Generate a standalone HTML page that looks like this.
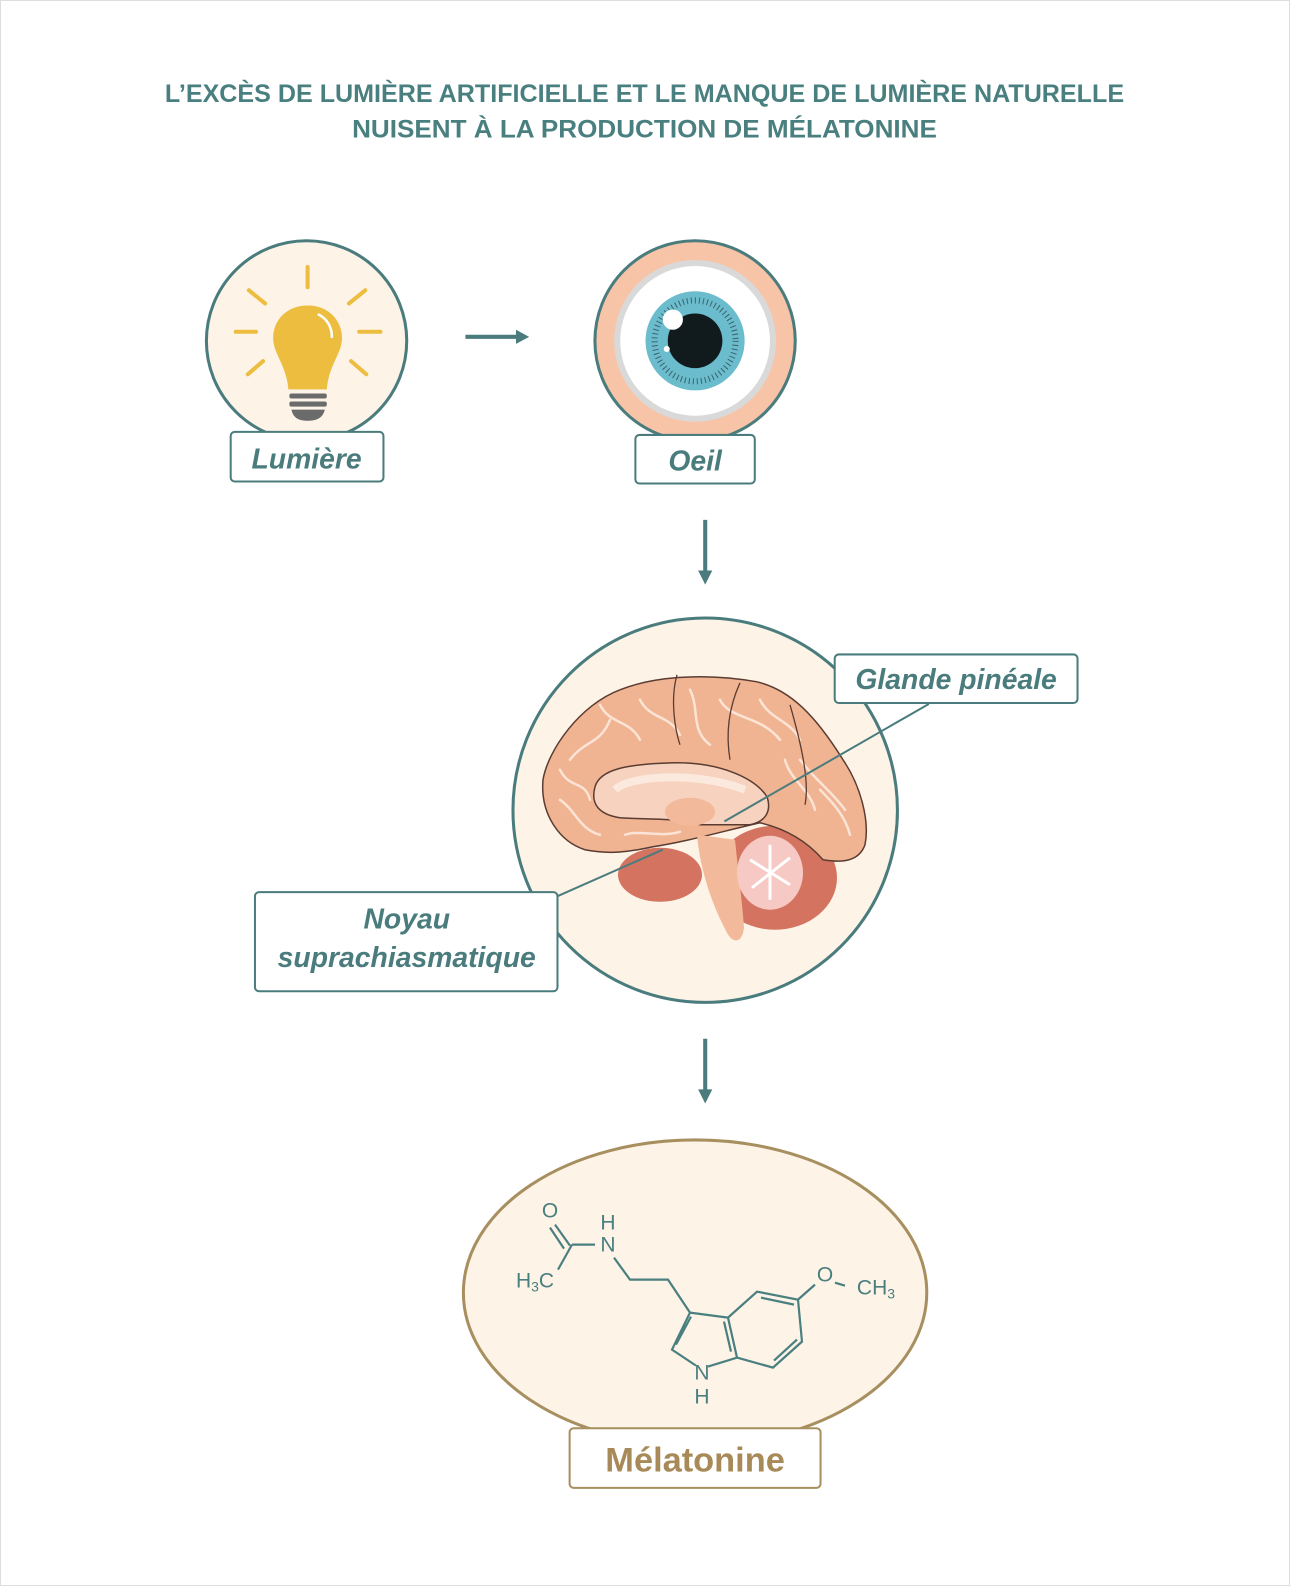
<!DOCTYPE html>
<html><head><meta charset="utf-8"><style>
html,body{margin:0;padding:0;background:#fff}
svg{display:block}
text{font-family:"Liberation Sans",sans-serif}
</style></head><body>
<svg width="1290" height="1586" viewBox="0 0 1275 1568" preserveAspectRatio="none" xmlns="http://www.w3.org/2000/svg">
<rect x="0.5" y="0.5" width="1274" height="1567" fill="#fff" stroke="#ddd"/>
<g fill="#4a7f80" font-weight="bold" font-size="25" text-anchor="middle">
<text x="637" y="101" textLength="948" lengthAdjust="spacingAndGlyphs">L’EXCÈS DE LUMIÈRE ARTIFICIELLE ET LE MANQUE DE LUMIÈRE NATURELLE</text>
<text x="637" y="136" textLength="578" lengthAdjust="spacingAndGlyphs">NUISENT À LA PRODUCTION DE MÉLATONINE</text>
</g>
<!-- bulb -->
<circle cx="303" cy="337" r="99" fill="#fdf3e7" stroke="#4a7c7d" stroke-width="3"/>
<g stroke="#ecbd3f" stroke-width="4" stroke-linecap="round">
<line x1="304" y1="264" x2="304" y2="284"/><line x1="246" y1="287" x2="262" y2="300"/><line x1="361" y1="287" x2="345" y2="300"/>
<line x1="233" y1="328" x2="253" y2="328"/><line x1="355" y1="328" x2="376" y2="328"/>
<line x1="245" y1="370" x2="260" y2="357"/><line x1="362" y1="370" x2="347" y2="357"/></g>
<path d="M304 302 C283 302 270 317 270 334 C270 350 283 360 285 385 L323 385 C325 360 338 350 338 334 C338 317 325 302 304 302Z" fill="#ecbd3f"/>
<path d="M315 311 C323 315 328 323 328 333" stroke="#fff" stroke-width="2.5" fill="none" stroke-linecap="round"/>
<rect x="286" y="389" width="37" height="5" rx="2" fill="#6b6b6b"/><rect x="286" y="397" width="37" height="5" rx="2" fill="#6b6b6b"/>
<path d="M288 405 L321 405 C319 414 312 416 304 416 C296 416 290 414 288 405Z" fill="#6b6b6b"/>
<!-- arrows -->
<g stroke="#4a7c7d" stroke-width="4"><line x1="460" y1="333" x2="512" y2="333"/><line x1="697" y1="514" x2="697" y2="566"/><line x1="697" y1="1027" x2="697" y2="1080"/></g>
<g fill="#4a7c7d"><path d="M510 326 L523 333 L510 340Z"/><path d="M690 564 L697 578 L704 564Z"/><path d="M690 1077 L697 1091 L704 1077Z"/></g>
<!-- eye -->
<circle cx="687" cy="337" r="99" fill="#f8c4a7" stroke="#4a7c7d" stroke-width="3"/>
<circle cx="687" cy="337" r="80" fill="#d9d9d9"/><circle cx="687" cy="337" r="74" fill="#fff"/>
<circle cx="687" cy="337" r="49" fill="#6bbccc"/><circle cx="687" cy="337" r="40" fill="none" stroke="#1a2a30" stroke-width="6" stroke-dasharray="1 3" opacity=".6"/>
<circle cx="687" cy="337" r="27" fill="#111a1c"/><circle cx="665" cy="316" r="10" fill="#fff"/><circle cx="659" cy="345" r="3" fill="#fff"/>
<!-- brain -->
<circle cx="697" cy="801" r="190" fill="#fdf3e7" stroke="#4a7c7d" stroke-width="3"/>
<g transform="scale(0.98837)">
<ellipse cx="660" cy="875" rx="42" ry="27" fill="#d4735f"/>
<ellipse cx="775" cy="878" rx="62" ry="52" fill="#d4735f"/>
<path d="M543 780 C548 750 580 705 620 690 C650 678 700 672 757 682 C790 690 815 715 843 760 C860 785 870 820 865 845 C858 865 835 862 823 860 C810 845 790 830 760 823 L743 827 C710 835 680 843 653 847 C630 852 610 855 585 850 C560 842 540 815 543 780Z" fill="#f0b492" stroke="#5a3c32" stroke-width="1.5"/>
<path d="M595 787 C600 770 625 764 677 763 C720 763 755 778 767 797 C772 812 765 822 750 825 L700 825 C680 818 650 820 620 818 C600 815 590 805 595 787Z" fill="#f6d2bf" stroke="#5a3c32" stroke-width="1.5"/>
<path d="M615 790 C630 775 700 772 745 790" stroke="#fbe9de" stroke-width="8" fill="none"/>
<ellipse cx="690" cy="812" rx="25" ry="14" fill="#f2b99a"/>
<path d="M697 835 C700 870 712 905 727 933 C732 943 742 945 744 928 C742 900 738 870 735 840Z" fill="#f2b99a"/>
<ellipse cx="770" cy="873" rx="33" ry="37" fill="#f6c9c4"/>
<path d="M770 845 L770 900 M750 860 L790 885 M790 858 L752 888" stroke="#fff" stroke-width="3"/>
<g stroke="#fbe4d6" stroke-width="2.5" fill="none" stroke-linecap="round"><path d="M570 760 C585 740 600 745 610 720"/><path d="M640 700 C650 720 670 715 680 735"/><path d="M720 700 C730 720 760 715 780 740"/><path d="M800 760 C815 780 830 790 845 810"/><path d="M560 800 C575 810 580 830 600 835"/><path d="M560 770 C570 790 585 780 590 800"/><path d="M600 705 C610 725 630 720 640 740"/><path d="M690 690 C700 710 690 730 710 745"/><path d="M760 700 C770 720 790 720 800 740"/><path d="M820 790 C830 800 845 815 850 835"/><path d="M785 760 C790 780 810 790 815 810"/><path d="M625 835 C640 830 660 838 680 832"/></g>
<g stroke="#5a3c32" stroke-width="1.3" fill="none"><path d="M677 675 C670 700 675 730 680 745"/><path d="M740 683 C730 705 725 730 730 760"/><path d="M790 705 C800 740 810 780 805 805"/></g>
</g>
<g stroke="#4a7c7d" stroke-width="2"><line x1="918" y1="696" x2="716" y2="812"/><line x1="551" y1="886" x2="655" y2="840"/></g>
<!-- melatonin -->
<ellipse cx="687" cy="1278" rx="229" ry="151" fill="#fdf3e7" stroke="#a88f5f" stroke-width="3"/>
<rect x="563" y="1412" width="248" height="59" rx="4" fill="#fff" stroke="#a88f5f" stroke-width="2"/>
<text x="687" y="1455" fill="#a88a58" font-weight="bold" font-size="34" text-anchor="middle">Mélatonine</text>
<g transform="scale(0.98837)" stroke="#4a7f80" stroke-width="2.2" fill="none">
<path d="M555 1225 L570 1246 M550 1228 L564 1249"/>
<path d="M572 1245 L595 1245 M572 1245 L558 1270"/>
<path d="M614 1258 L630 1280 L668 1280 L690 1313 L672 1350 L696 1366 M708 1367 L737 1358 L728 1318 L690 1313 M676 1345 L691 1317 M731 1352 L724 1322 M728 1318 L757 1292 L798 1300 L802 1342 L773 1368 L737 1358 M761 1298 L794 1305 M797 1340 L774 1361 M798 1300 L815 1285 M835 1283 L845 1286"/>
</g>
<g transform="scale(0.98837)" fill="#4a7f80" font-size="21" text-anchor="middle">
<text x="550" y="1218">O</text><text x="608" y="1230">H</text><text x="608" y="1252">N</text>
<text x="535" y="1288">H<tspan font-size="14" dy="4">3</tspan><tspan dy="-4">C</tspan></text>
<text x="702" y="1380">N</text><text x="702" y="1404">H</text>
<text x="825" y="1282">O</text><text x="876" y="1295">CH<tspan font-size="14" dy="4">3</tspan></text>
</g>
<!-- boxes on top -->
<g fill="#fff" stroke="#4a7c7d" stroke-width="2">
<rect x="228" y="427" width="151" height="49" rx="4"/>
<rect x="628" y="430" width="118" height="48" rx="4"/>
<rect x="825" y="647" width="240" height="48" rx="4"/>
<rect x="252" y="882" width="299" height="98" rx="4"/>
</g>
<g fill="#4a7c7d" font-style="italic" font-weight="bold" font-size="28" text-anchor="middle">
<text x="303" y="463">Lumière</text><text x="687" y="465">Oeil</text>
<text x="945" y="681">Glande pinéale</text>
<text x="402" y="918">Noyau</text><text x="402" y="956">suprachiasmatique</text>
</g>
</svg>
</body></html>
